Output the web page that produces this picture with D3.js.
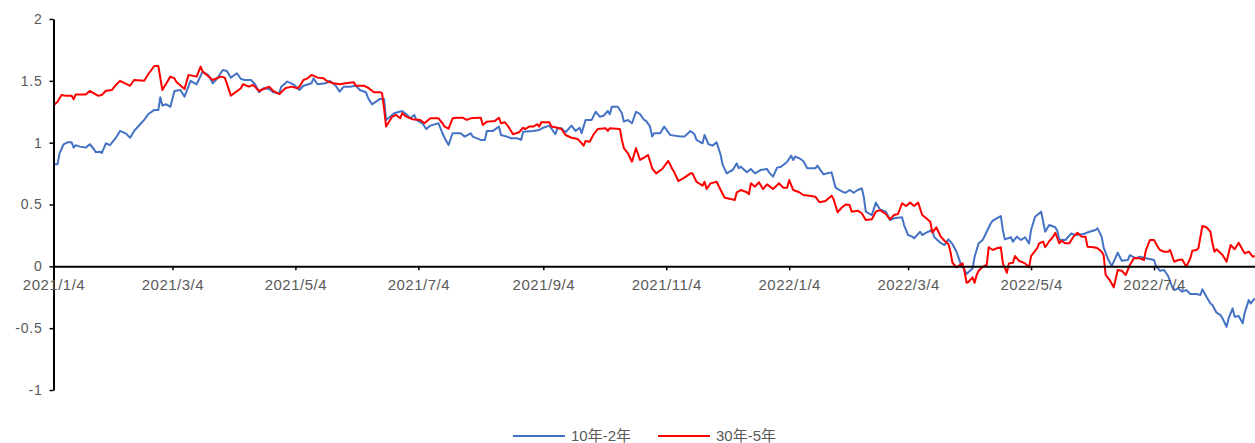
<!DOCTYPE html>
<html><head><meta charset="utf-8">
<script src="https://cdn.jsdelivr.net/npm/d3@7"></script>
<style>html,body{margin:0;padding:0;background:#fff;}svg{display:block;}</style>
</head><body>
<svg id="chart" width="1255" height="443"></svg>
<script>
// ---- data ----
const seriesNames = ["10年-2年", "30年-5年"];
const xTickLabels = ["2021/1/4","2021/3/4","2021/5/4","2021/7/4","2021/9/4","2021/11/4","2022/1/4","2022/3/4","2022/5/4","2022/7/4"];
const yTickValues = [-1, -0.5, 0, 0.5, 1, 1.5, 2];

const dates10y2y = [
"2021-01-04","2021-01-06","2021-01-07","2021-01-09","2021-01-11","2021-01-13","2021-01-14","2021-01-15","2021-01-17","2021-01-20",
"2021-01-22","2021-01-24","2021-01-25","2021-01-27","2021-01-28","2021-01-30","2021-02-01","2021-02-04","2021-02-06","2021-02-09",
"2021-02-11","2021-02-13","2021-02-16","2021-02-18","2021-02-20","2021-02-23","2021-02-25","2021-02-26","2021-02-27","2021-03-01",
"2021-03-03","2021-03-05","2021-03-08","2021-03-10","2021-03-13","2021-03-16","2021-03-19","2021-03-22","2021-03-24","2021-03-26",
"2021-03-29","2021-03-31","2021-04-02","2021-04-05","2021-04-07","2021-04-09","2021-04-12","2021-04-14","2021-04-16","2021-04-18",
"2021-04-21","2021-04-23","2021-04-26","2021-04-27","2021-04-30","2021-05-03","2021-05-06","2021-05-08","2021-05-12","2021-05-13",
"2021-05-15","2021-05-19","2021-05-21","2021-05-24","2021-05-26","2021-05-28","2021-05-31","2021-06-03","2021-06-05","2021-06-08",
"2021-06-09","2021-06-11","2021-06-13","2021-06-15","2021-06-17","2021-06-18","2021-06-20","2021-06-22","2021-06-26","2021-06-28",
"2021-06-30","2021-07-02","2021-07-03","2021-07-06","2021-07-08","2021-07-10","2021-07-14","2021-07-16","2021-07-17","2021-07-19",
"2021-07-21","2021-07-25","2021-07-27","2021-07-30","2021-07-31","2021-08-04","2021-08-06","2021-08-07","2021-08-10","2021-08-13",
"2021-08-14","2021-08-17","2021-08-19","2021-08-22","2021-08-24","2021-08-25","2021-08-30","2021-09-02","2021-09-04","2021-09-07",
"2021-09-08","2021-09-10","2021-09-11","2021-09-13","2021-09-15","2021-09-18","2021-09-20","2021-09-22","2021-09-23","2021-09-25",
"2021-09-28","2021-09-30","2021-10-02","2021-10-04","2021-10-06","2021-10-07","2021-10-08","2021-10-11","2021-10-13","2021-10-14",
"2021-10-16","2021-10-18","2021-10-20","2021-10-22","2021-10-24","2021-10-25","2021-10-27","2021-10-28","2021-10-29","2021-11-01",
"2021-11-03","2021-11-06","2021-11-08","2021-11-11","2021-11-13","2021-11-16","2021-11-18","2021-11-19","2021-11-22","2021-11-23",
"2021-11-25","2021-11-27","2021-11-29","2021-12-01","2021-12-02","2021-12-04","2021-12-06","2021-12-07","2021-12-09","2021-12-10",
"2021-12-11","2021-12-14","2021-12-16","2021-12-18","2021-12-21","2021-12-24","2021-12-25","2021-12-27","2021-12-29","2021-12-31",
"2022-01-03","2022-01-05","2022-01-06","2022-01-07","2022-01-09","2022-01-11","2022-01-13","2022-01-17","2022-01-18","2022-01-21",
"2022-01-23","2022-01-25","2022-01-27","2022-01-29","2022-01-31","2022-02-01","2022-02-03","2022-02-05","2022-02-07","2022-02-09",
"2022-02-10","2022-02-11","2022-02-14","2022-02-16","2022-02-18","2022-02-21","2022-02-23","2022-02-25","2022-03-01","2022-03-02",
"2022-03-04","2022-03-06","2022-03-07","2022-03-10","2022-03-11","2022-03-13","2022-03-16","2022-03-17","2022-03-20","2022-03-22",
"2022-03-24","2022-03-26","2022-03-28","2022-03-30","2022-03-31","2022-04-02","2022-04-05","2022-04-06","2022-04-08","2022-04-10",
"2022-04-12","2022-04-14","2022-04-15","2022-04-17","2022-04-19","2022-04-20","2022-04-21","2022-04-24","2022-04-25","2022-04-27",
"2022-04-29","2022-05-01","2022-05-03","2022-05-04","2022-05-06","2022-05-09","2022-05-11","2022-05-13","2022-05-16","2022-05-17",
"2022-05-18","2022-05-20","2022-05-21","2022-05-24","2022-05-26","2022-05-30","2022-06-02","2022-06-05","2022-06-06","2022-06-08",
"2022-06-09","2022-06-11","2022-06-13","2022-06-16","2022-06-18","2022-06-21","2022-06-22","2022-06-25","2022-06-27","2022-06-30",
"2022-07-04","2022-07-05","2022-07-07","2022-07-09","2022-07-11","2022-07-13","2022-07-14","2022-07-16","2022-07-18","2022-07-20",
"2022-07-22","2022-07-25","2022-07-27","2022-07-28","2022-07-30","2022-08-01","2022-08-02","2022-08-04","2022-08-06","2022-08-07",
"2022-08-09","2022-08-10","2022-08-12","2022-08-13","2022-08-15","2022-08-17","2022-08-18","2022-08-20","2022-08-21","2022-08-23"
];
const values10y2y = [
0.825,0.825,0.914,0.987,1.003,1.003,0.96,0.98,0.968,0.96,
0.987,0.949,0.922,0.927,0.917,0.995,0.98,1.04,1.095,1.073,
1.04,1.095,1.149,1.184,1.23,1.265,1.265,1.367,1.30,1.31,
1.29,1.418,1.426,1.372,1.5,1.472,1.575,1.542,1.48,1.515,
1.588,1.58,1.526,1.561,1.515,1.507,1.507,1.472,1.408,1.44,
1.434,1.408,1.40,1.453,1.494,1.472,1.426,1.46,1.48,1.52,
1.472,1.48,1.50,1.46,1.413,1.453,1.453,1.46,1.426,1.408,
1.364,1.31,1.332,1.354,1.354,1.184,1.21,1.238,1.256,1.23,
1.197,1.224,1.184,1.157,1.11,1.138,1.157,1.076,1.04,0.981,
1.076,1.076,1.049,1.076,1.049,1.022,1.022,1.095,1.095,1.13,
1.062,1.049,1.036,1.036,1.022,1.089,1.095,1.103,1.121,1.138,
1.116,1.068,1.116,1.116,1.084,1.138,1.095,1.121,1.076,1.184,
1.184,1.25,1.21,1.218,1.256,1.23,1.29,1.29,1.238,1.17,
1.184,1.157,1.25,1.23,1.184,1.176,1.13,1.049,1.076,1.076,
1.13,1.062,1.057,1.049,1.049,1.095,1.068,1.022,0.995,1.062,
0.987,0.976,1.003,0.90,0.82,0.752,0.771,0.779,0.833,0.793,
0.806,0.76,0.787,0.752,0.779,0.787,0.76,0.725,0.798,0.806,
0.846,0.895,0.86,0.887,0.874,0.852,0.793,0.793,0.814,0.744,
0.752,0.76,0.636,0.617,0.599,0.595,0.617,0.595,0.617,0.631,
0.563,0.442,0.415,0.515,0.461,0.442,0.375,0.388,0.396,0.334,
0.253,0.24,0.227,0.28,0.253,0.272,0.294,0.235,0.191,0.172,
0.218,0.18,0.118,0.024,0.002,-0.062,-0.016,0.078,0.186,0.213,
0.28,0.348,0.369,0.388,0.407,0.294,0.218,0.235,0.199,0.24,
0.213,0.235,0.186,0.294,0.401,0.442,0.28,0.334,0.316,0.288,
0.218,0.213,0.213,0.267,0.253,0.261,0.28,0.294,0.307,0.24,
0.154,0.065,0.002,0.11,0.045,0.051,0.091,0.065,0.078,0.065,
0.051,0.002,-0.036,-0.03,-0.078,-0.165,-0.192,-0.178,-0.205,-0.192,
-0.224,-0.224,-0.232,-0.186,-0.246,-0.30,-0.313,-0.375,-0.394,-0.421,
-0.489,-0.421,-0.34,-0.408,-0.402,-0.461,-0.375,-0.273,-0.30,-0.259
];

const dates30y5y = [
"2021-01-04","2021-01-06","2021-01-08","2021-01-10","2021-01-13","2021-01-14","2021-01-15","2021-01-20","2021-01-22","2021-01-26",
"2021-01-28","2021-01-30","2021-02-02","2021-02-04","2021-02-06","2021-02-11","2021-02-13","2021-02-18","2021-02-20","2021-02-23",
"2021-02-25","2021-02-27","2021-03-03","2021-03-05","2021-03-06","2021-03-10","2021-03-12","2021-03-16","2021-03-18","2021-03-19",
"2021-03-24","2021-03-28","2021-03-30","2021-04-02","2021-04-07","2021-04-08","2021-04-11","2021-04-13","2021-04-16","2021-04-21",
"2021-04-23","2021-04-26","2021-04-29","2021-05-02","2021-05-05","2021-05-06","2021-05-08","2021-05-10","2021-05-12","2021-05-13",
"2021-05-15","2021-05-18","2021-05-20","2021-05-23","2021-05-26","2021-05-29","2021-06-02","2021-06-03","2021-06-07","2021-06-09",
"2021-06-12","2021-06-15","2021-06-16","2021-06-17","2021-06-18","2021-06-21","2021-06-23","2021-06-25","2021-06-26","2021-06-28",
"2021-07-01","2021-07-05","2021-07-07","2021-07-10","2021-07-14","2021-07-16","2021-07-17","2021-07-19","2021-07-21","2021-07-23",
"2021-07-26","2021-07-28","2021-07-30","2021-08-03","2021-08-04","2021-08-05","2021-08-07","2021-08-11","2021-08-13","2021-08-14",
"2021-08-16","2021-08-18","2021-08-20","2021-08-23","2021-08-25","2021-08-26","2021-08-28","2021-08-30","2021-09-01","2021-09-02",
"2021-09-03","2021-09-07","2021-09-08","2021-09-11","2021-09-13","2021-09-15","2021-09-18","2021-09-21","2021-09-22","2021-09-24",
"2021-09-25","2021-09-27","2021-09-29","2021-10-01","2021-10-05","2021-10-06","2021-10-07","2021-10-12","2021-10-13","2021-10-14",
"2021-10-16","2021-10-18","2021-10-20","2021-10-22","2021-10-24","2021-10-26","2021-10-28","2021-10-30","2021-11-02","2021-11-05",
"2021-11-07","2021-11-08","2021-11-10","2021-11-13","2021-11-16","2021-11-17","2021-11-19","2021-11-22","2021-11-23","2021-11-24",
"2021-11-26","2021-11-29","2021-12-01","2021-12-03","2021-12-06","2021-12-08","2021-12-09","2021-12-11","2021-12-14","2021-12-15",
"2021-12-16","2021-12-18","2021-12-20","2021-12-22","2021-12-24","2021-12-27","2021-12-30","2022-01-01","2022-01-03","2022-01-04",
"2022-01-06","2022-01-09","2022-01-11","2022-01-14","2022-01-17","2022-01-19","2022-01-22","2022-01-25","2022-01-26","2022-01-28",
"2022-01-30","2022-02-01","2022-02-03","2022-02-04","2022-02-07","2022-02-09","2022-02-11","2022-02-14","2022-02-16","2022-02-18",
"2022-02-21","2022-02-23","2022-02-25","2022-02-27","2022-03-01","2022-03-03","2022-03-05","2022-03-07","2022-03-09","2022-03-11",
"2022-03-13","2022-03-15","2022-03-16","2022-03-18","2022-03-20","2022-03-22","2022-03-24","2022-03-25","2022-03-26","2022-03-28",
"2022-03-31","2022-04-01","2022-04-02","2022-04-03","2022-04-05","2022-04-06","2022-04-07","2022-04-08","2022-04-10","2022-04-12",
"2022-04-13","2022-04-15","2022-04-17","2022-04-19","2022-04-20","2022-04-22","2022-04-23","2022-04-25","2022-04-26","2022-04-28",
"2022-05-01","2022-05-03","2022-05-04","2022-05-07","2022-05-08","2022-05-10","2022-05-11","2022-05-13","2022-05-15","2022-05-16",
"2022-05-18","2022-05-19","2022-05-21","2022-05-23","2022-05-25","2022-05-27","2022-05-29","2022-05-31","2022-06-01","2022-06-04",
"2022-06-06","2022-06-08","2022-06-09","2022-06-10","2022-06-12","2022-06-14","2022-06-16","2022-06-18","2022-06-20","2022-06-22",
"2022-06-24","2022-06-27","2022-06-29","2022-06-30","2022-07-02","2022-07-04","2022-07-06","2022-07-07","2022-07-09","2022-07-11",
"2022-07-12","2022-07-14","2022-07-16","2022-07-18","2022-07-20","2022-07-22","2022-07-23","2022-07-25","2022-07-26","2022-07-28",
"2022-07-30","2022-08-01","2022-08-02","2022-08-03","2022-08-04","2022-08-07","2022-08-09","2022-08-11","2022-08-13","2022-08-15",
"2022-08-17","2022-08-18","2022-08-20","2022-08-22","2022-08-23"
];
const values30y5y = [
1.30,1.33,1.386,1.38,1.38,1.35,1.39,1.39,1.418,1.38,
1.386,1.42,1.426,1.467,1.5,1.46,1.507,1.5,1.553,1.62,
1.62,1.426,1.534,1.52,1.49,1.434,1.548,1.534,1.615,1.575,
1.507,1.534,1.526,1.38,1.44,1.472,1.453,1.467,1.418,1.453,
1.418,1.392,1.44,1.453,1.44,1.453,1.507,1.52,1.548,1.542,
1.526,1.52,1.494,1.48,1.472,1.48,1.488,1.46,1.46,1.445,
1.408,1.408,1.40,1.278,1.13,1.21,1.224,1.197,1.238,1.21,
1.19,1.184,1.157,1.197,1.197,1.157,1.13,1.113,1.197,1.202,
1.202,1.184,1.197,1.202,1.202,1.143,1.17,1.176,1.202,1.157,
1.165,1.121,1.068,1.084,1.121,1.11,1.13,1.13,1.149,1.13,
1.165,1.165,1.13,1.121,1.11,1.062,1.04,1.03,1.014,0.976,
1.014,1.008,1.068,1.11,1.116,1.095,1.116,1.11,1.022,0.955,
0.914,0.846,0.955,0.86,0.879,0.90,0.793,0.752,0.787,0.852,
0.787,0.76,0.69,0.717,0.752,0.752,0.684,0.652,0.684,0.625,
0.671,0.684,0.617,0.555,0.544,0.536,0.599,0.617,0.599,0.583,
0.671,0.644,0.68,0.625,0.663,0.625,0.671,0.636,0.636,0.698,
0.617,0.599,0.577,0.571,0.563,0.518,0.528,0.571,0.544,0.437,
0.474,0.5,0.496,0.442,0.45,0.429,0.375,0.38,0.442,0.455,
0.423,0.38,0.415,0.423,0.51,0.488,0.515,0.488,0.515,0.415,
0.388,0.361,0.272,0.316,0.245,0.207,0.18,0.118,0.029,-0.008,
0.024,-0.044,-0.133,-0.125,-0.089,-0.133,-0.07,-0.036,-0.003,0.011,
0.154,0.132,0.146,0.154,0.024,-0.052,0.024,0.029,0.083,0.045,
0.024,-0.008,0.083,0.146,0.185,0.2,0.154,0.203,0.24,0.272,
0.186,0.207,0.186,0.186,0.24,0.272,0.24,0.24,0.159,0.154,
0.146,0.118,0.091,-0.07,-0.111,-0.17,-0.03,-0.036,-0.07,0.011,
0.065,0.065,0.051,0.132,0.213,0.213,0.154,0.132,0.118,0.118,
0.132,0.037,0.051,0.056,-0.003,0.065,0.126,0.132,0.146,0.326,
0.316,0.28,0.186,0.118,0.138,0.091,0.037,0.172,0.138,0.191,
0.132,0.105,0.118,0.078,0.083
];

// ---- chart ----
const seriesColors = ["#4472C4", "#FF0000"];
const svg = d3.select("#chart");
const parseISO = d3.utcParse("%Y-%m-%d");
const parseLabel = s => { const [yy, mm, dd] = s.split("/").map(Number); return new Date(Date.UTC(yy, mm - 1, dd)); };

const x = d3.scaleUtc()
  .domain([parseISO("2021-01-04"), parseISO("2022-08-23")])
  .range([53.5, 1254.8]);
const y = d3.scaleLinear().domain([-1, 2]).range([390, 19]);

const series = [
  { name: seriesNames[0], color: seriesColors[0], pts: dates10y2y.map((d, i) => ({ date: parseISO(d), v: values10y2y[i] })) },
  { name: seriesNames[1], color: seriesColors[1], pts: dates30y5y.map((d, i) => ({ date: parseISO(d), v: values30y5y[i] })) }
];

const line = d3.line().x(d => x(d.date)).y(d => y(d.v));

svg.append("g").selectAll("path").data(series).join("path")
  .attr("d", s => line(s.pts))
  .attr("fill", "none")
  .attr("stroke", s => s.color)
  .attr("stroke-width", 2)
  .attr("stroke-linejoin", "round");

const textColor = "#595959";
const fontFam = "'Liberation Sans', Arial, 'Noto Sans CJK SC', sans-serif";

// y axis
const yAxis = svg.append("g").attr("transform", `translate(${x.range()[0]},0)`)
  .call(d3.axisLeft(y).tickValues(yTickValues).tickSize(4).tickSizeOuter(0).tickPadding(7)
    .tickFormat(d => String(d)));
yAxis.select(".domain").attr("stroke", "#000").attr("stroke-width", 2);
yAxis.selectAll(".tick line").attr("stroke", "#000").attr("stroke-width", 1.5);
yAxis.selectAll("text").attr("fill", textColor).style("font-size", "14px")
  .style("font-family", fontFam).style("letter-spacing", "0.8px");

// x axis at zero
const xTickDates = xTickLabels.map(parseLabel);
const xAxis = svg.append("g").attr("transform", `translate(0,${y(0)})`)
  .call(d3.axisBottom(x).tickValues(xTickDates).tickSize(4).tickSizeOuter(0).tickPadding(9)
    .tickFormat((d, i) => xTickLabels[i]));
xAxis.select(".domain").attr("stroke", "#000").attr("stroke-width", 2);
xAxis.selectAll(".tick line").attr("stroke", "#000").attr("stroke-width", 1.5);
xAxis.selectAll("text").attr("fill", textColor).style("font-size", "15px")
  .style("font-family", fontFam).style("letter-spacing", "0.5px");

// legend
const legend = svg.append("g");
const legendX = [513, 658];
series.forEach((s, i) => {
  const g = legend.append("g").attr("transform", `translate(${legendX[i]},436)`);
  g.append("line").attr("x1", 0).attr("x2", 52).attr("y1", 0).attr("y2", 0)
    .attr("stroke", s.color).attr("stroke-width", 2);
  g.append("text").attr("x", 58).attr("y", 0).attr("dy", "0.35em")
    .attr("fill", textColor).style("font-size", "15px")
    .style("font-family", "'Liberation Sans', 'Noto Sans CJK SC', sans-serif")
    .text(s.name);
});
</script>
</body></html>
